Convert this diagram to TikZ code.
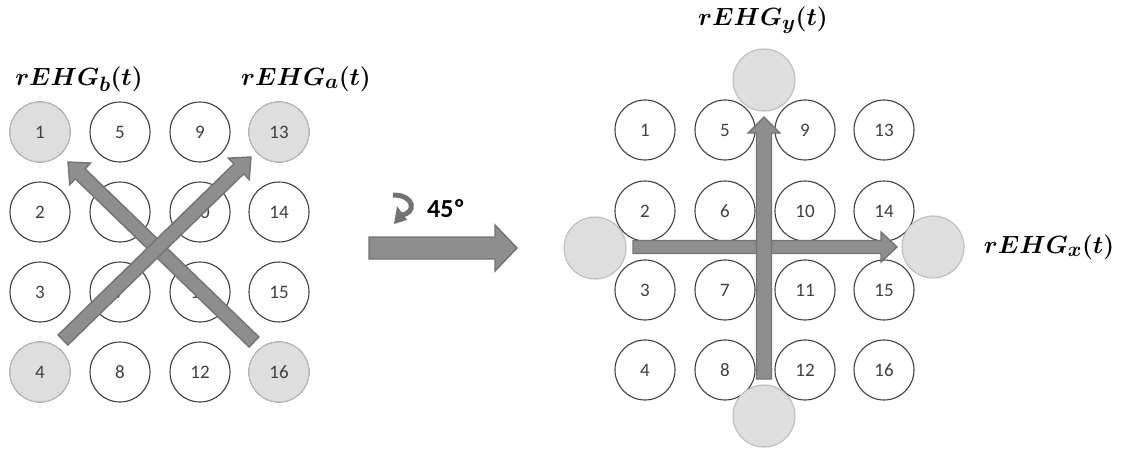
\documentclass[tikz,border=0pt]{standalone}
\usepackage{fontspec}
\usepackage{bm}
\DeclareMathSizes{32}{32}{21}{16}
\newfontfamily\numfont{Carlito}
\usetikzlibrary{calc}
\definecolor{ringline}{HTML}{404040}
\definecolor{greyfill}{HTML}{DEDEDE}
\definecolor{greyline}{HTML}{BDBDBD}
\definecolor{arrowfill}{HTML}{8E8E8E}
\definecolor{arrowline}{HTML}{737373}
\tikzset{
  cell/.style={circle, draw=ringline, line width=1.1pt, fill=white, minimum size=60pt,
    inner sep=0pt, font=\numfont\fontsize{19}{19}\selectfont, text=ringline},
  greycell/.style={cell, draw=greyline, fill=greyfill},
  blank/.style={circle, draw=greyline, line width=1.1pt, fill=greyfill, minimum size=62pt, inner sep=0pt},
  arrowbody/.style={draw=arrowline, fill=arrowfill, line width=1.4pt, line join=miter},
  lbl/.style={font=\fontsize{32}{35}\selectfont, inner sep=0pt}
}
% block arrow: #1 tail, #2 tip, #3 shaft half-width, #4 head half-width, #5 head length
\newcommand\blockarrow[5]{%
  \coordinate (ba-base) at ($(#2)!#5!(#1)$);
  \draw[arrowbody] ($(#1)!#3!90:(#2)$) -- ($(ba-base)!#3!-90:(#1)$)
    -- ($(ba-base)!#4!-90:(#1)$) -- (#2) -- ($(ba-base)!#4!90:(#1)$)
    -- ($(ba-base)!#3!90:(#1)$) -- ($(#1)!#3!-90:(#2)$) -- cycle;}
\begin{document}
\begin{tikzpicture}[x=1pt,y=-1pt]
\useasboundingbox (0,0) rectangle (1126,450);

% ---- left grid ----
\foreach \c/\xx in {0/40,1/120,2/200,3/279}{
  \foreach \r/\yy in {0/132,1/212,2/292,3/372}{
    \pgfmathtruncatemacro\num{4*\c+\r+1}
    \node[cell] (L\num) at (\xx,\yy) {\num};
  }}
\foreach \k in {1,4,13,16}{
  \node[greycell] at (L\k) {\k};}

\coordinate (bTail) at (254,342);
\coordinate (bTip) at (68,162);
\coordinate (aTail) at (63,340);
\coordinate (aTip) at (251,157);
\blockarrow{bTail}{bTip}{7pt}{15pt}{17pt}
\blockarrow{aTail}{aTip}{7pt}{15pt}{17pt}

\node[lbl] (labB) at (79,79) {$\bm{rEHG_b(t)}$};
\node[lbl] (labA) at (306,79) {$\bm{rEHG_a(t)}$};

% ---- rotation sign ----
\coordinate (mTail) at (369,248);
\coordinate (mTip) at (517,248);
\blockarrow{mTail}{mTip}{11pt}{23pt}{22pt}
\draw[arrowline, line width=5pt] (393,195) .. controls (416,195) and (416,214) .. (401,215);
\fill[arrowline] (394,224) -- (397,206) -- (407,220) -- cycle;
\node[font=\numfont\bfseries\fontsize{26}{26}\selectfont, inner sep=0pt] (deg) at (446,209) {45º};

% ---- right grid ----
\foreach \c/\xx in {0/645,1/725,2/805,3/884}{
  \foreach \r/\yy in {0/130,1/211,2/290,3/370}{
    \pgfmathtruncatemacro\num{4*\c+\r+1}
    \node[cell] (R\num) at (\xx,\yy) {\num};
  }}
\node[blank] (gTop) at (764,80) {};
\node[blank] (gBot) at (764,416) {};
\node[blank] (gLeft) at (595,248) {};
\node[blank] (gRight) at (933,247) {};

\coordinate (hTail) at (633,247);
\coordinate (hTip) at (897,247);
\coordinate (vTail) at (764,379);
\coordinate (vTip) at (764,117);
\blockarrow{hTail}{hTip}{6.5pt}{15pt}{16pt}
\blockarrow{vTail}{vTip}{7.5pt}{16pt}{16pt}

\node[lbl] (labY) at (763,20) {$\bm{rEHG_y(t)}$};
\node[lbl] (labX) at (1049,247) {$\bm{rEHG_x(t)}$};
\end{tikzpicture}
\end{document}
